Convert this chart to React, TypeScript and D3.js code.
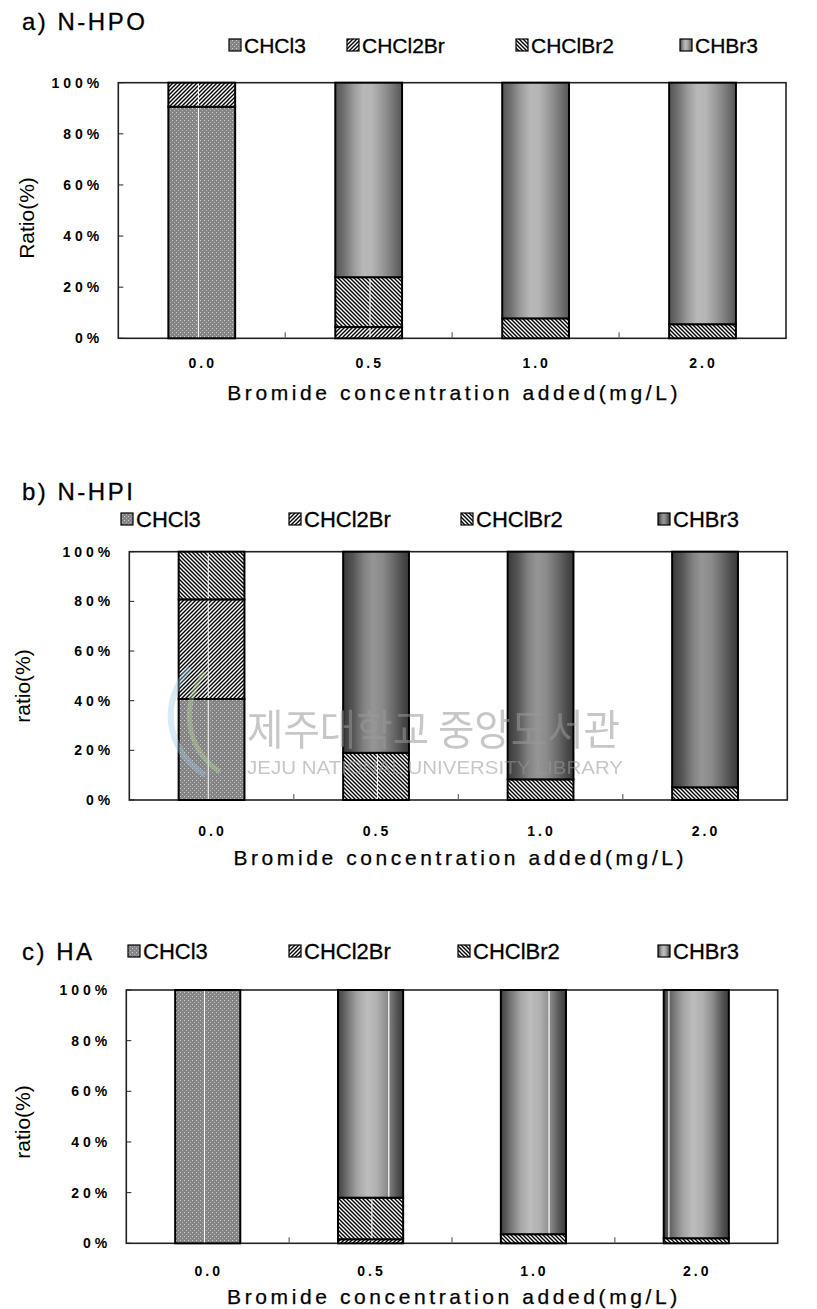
import React from "react";
import * as d3 from "d3";

const categories = ["0.0", "0.5", "1.0", "2.0"];
const seriesNames = ["CHCl3", "CHCl2Br", "CHClBr2", "CHBr3"];
const yTicks = [0, 20, 40, 60, 80, 100];

// a) N-HPO
const hpoCHCl3 = [90.6, 0, 0, 0];
const hpoCHCl2Br = [9.4, 4.4, 0, 0];
const hpoCHClBr2 = [0, 19.5, 7.8, 5.5];
const hpoCHBr3 = [0, 76.1, 92.2, 94.5];

// b) N-HPI
const hpiCHCl3 = [40.7, 0, 0, 0];
const hpiCHCl2Br = [40.1, 0, 0, 0];
const hpiCHClBr2 = [19.2, 19.0, 8.3, 5.1];
const hpiCHBr3 = [0, 81.0, 91.7, 94.9];

// c) HA
const haCHCl3 = [100, 0, 0, 0];
const haCHCl2Br = [0, 1.6, 0, 0];
const haCHClBr2 = [0, 16.4, 3.6, 2.0];
const haCHBr3 = [0, 82.0, 96.4, 98.0];

const FONT = "'Liberation Sans', Arial, sans-serif";

type Panel = {
  key: string;
  title: string;
  yTitle: string;
  series: number[][];
  frame: { l: number; r: number; t: number; b: number };
  titleY: number;
  legendY: number;
  legendX: number[];
  legendFont: number;
  tickY: number;
  axisTitleY: number;
  yTitleX: number;
  yTitleY: number;
  grad: [number, string][];
  chbr3Lines: (number | null)[];
};

const panels: Panel[] = [
  {
    key: "a",
    title: "a) N-HPO",
    yTitle: "Ratio(%)",
    series: [hpoCHCl3, hpoCHCl2Br, hpoCHClBr2, hpoCHBr3],
    frame: { l: 118.3, r: 786, t: 82.7, b: 338.3 },
    titleY: 30,
    legendY: 45,
    legendX: [229, 347, 516, 680],
    legendFont: 21,
    tickY: 368,
    axisTitleY: 400,
    yTitleX: 34,
    yTitleY: 218,
    grad: [
      [0, "#555"],
      [0.12, "#6e6e6e"],
      [0.28, "#9c9c9c"],
      [0.42, "#b8b8b8"],
      [0.55, "#b5b5b5"],
      [0.7, "#9a9a9a"],
      [0.85, "#7a7a7a"],
      [1, "#555"],
    ],
    chbr3Lines: [null, null, null, null],
  },
  {
    key: "b",
    title: "b) N-HPI",
    yTitle: "ratio(%)",
    series: [hpiCHCl3, hpiCHCl2Br, hpiCHClBr2, hpiCHBr3],
    frame: { l: 129.3, r: 787.3, t: 551.7, b: 800 },
    titleY: 500,
    legendY: 519,
    legendX: [121, 289, 461, 658],
    legendFont: 22,
    tickY: 836,
    axisTitleY: 865,
    yTitleX: 30,
    yTitleY: 686,
    grad: [
      [0, "#3a3a3a"],
      [0.15, "#555"],
      [0.32, "#838383"],
      [0.45, "#959595"],
      [0.6, "#8a8a8a"],
      [0.78, "#666"],
      [0.92, "#474747"],
      [1, "#3a3a3a"],
    ],
    chbr3Lines: [null, null, null, null],
  },
  {
    key: "c",
    title: "c) HA",
    yTitle: "ratio(%)",
    series: [haCHCl3, haCHCl2Br, haCHClBr2, haCHBr3],
    frame: { l: 126.3, r: 777.7, t: 990, b: 1243.3 },
    titleY: 960,
    legendY: 951,
    legendX: [128, 289, 458, 658],
    legendFont: 22,
    tickY: 1276,
    axisTitleY: 1304,
    yTitleX: 30,
    yTitleY: 1122,
    grad: [
      [0, "#3e3e3e"],
      [0.12, "#6a6a6a"],
      [0.3, "#a5a5a5"],
      [0.45, "#bdbdbd"],
      [0.6, "#b0b0b0"],
      [0.75, "#8c8c8c"],
      [0.9, "#555"],
      [1, "#3a3a3a"],
    ],
    chbr3Lines: [null, 0.78, 0.74, 0.08],
  },
];

function fillFor(p: string, i: number) {
  if (i === 0) return `url(#dots-${p})`;
  if (i === 1) return `url(#fwd-${p})`;
  if (i === 2) return `url(#back-${p})`;
  return `url(#grad-${p})`;
}

function PanelChart({ p }: { p: Panel }) {
  const { l, r, t, b } = p.frame;
  const x = d3.scaleBand<string>().domain(categories).range([l, r]).paddingInner(0.6).paddingOuter(0.3);
  const y = d3.scaleLinear().domain([0, 100]).range([b, t]);
  const rows = categories.map((c, ci) => {
    const o: any = { cat: c };
    seriesNames.forEach((s, si) => (o[s] = p.series[si][ci]));
    return o;
  });
  const stacked = d3.stack<any>().keys(seriesNames)(rows);
  const step = x.step();
  const bw = x.bandwidth();
  const boundaries = categories.slice(1).map((c) => (x(c) as number) - (step - bw) / 2);

  return (
    <g>
      <defs>
        <pattern id={`dots-${p.key}`} width={4} height={4} patternUnits="userSpaceOnUse">
          <rect width={4} height={4} fill="#858585" />
          <rect x={0} y={0} width={1} height={1} fill="#cfcfcf" />
          <rect x={2} y={2} width={1} height={1} fill="#b5b5b5" />
        </pattern>
        <pattern id={`fwd-${p.key}`} width={4} height={4} patternUnits="userSpaceOnUse">
          <rect width={4} height={4} fill="#fff" />
          <path d="M-1,1 L1,-1 M0,4 L4,0 M3,5 L5,3" stroke="#000" strokeWidth={1.4} />
        </pattern>
        <pattern id={`back-${p.key}`} width={4} height={4} patternUnits="userSpaceOnUse">
          <rect width={4} height={4} fill="#fff" />
          <path d="M-1,3 L1,5 M0,0 L4,4 M3,-1 L5,1" stroke="#000" strokeWidth={1.4} />
        </pattern>
        <linearGradient id={`grad-${p.key}`} x1="0" x2="1" y1="0" y2="0">
          {p.grad.map(([o, c], i) => (
            <stop key={i} offset={o} stopColor={c} />
          ))}
        </linearGradient>
      </defs>

      {/* title */}
      <text x={22} y={p.titleY} fontFamily={FONT} fontSize={24} letterSpacing={2.5} fill="#000" stroke="#000" strokeWidth={0.3}>
        {p.title}
      </text>

      {/* legend */}
      {seriesNames.map((s, i) => (
        <g key={s}>
          <rect
            x={p.legendX[i]}
            y={p.legendY - 6}
            width={12}
            height={12}
            fill={fillFor(p.key, i)}
            stroke="#000"
            strokeWidth={1.2}
          />
          <text
            x={p.legendX[i] + 15}
            y={p.legendY + 8}
            fontFamily={FONT}
            fontSize={p.legendFont}
            fill="#000"
            stroke="#000"
            strokeWidth={0.3}
          >
            {s}
          </text>
        </g>
      ))}

      {/* frame */}
      <rect x={l} y={t} width={r - l} height={b - t} fill="#fff" stroke="#222" strokeWidth={1.6} />

      {/* y ticks */}
      {yTicks.map((v) => (
        <g key={v}>
          <line x1={l} x2={l + 5} y1={y(v)} y2={y(v)} stroke="#222" strokeWidth={1} />
          <text
            x={l - 15}
            y={y(v) + 5}
            textAnchor="end"
            fontFamily={FONT}
            fontWeight="bold"
            fontSize={14}
            letterSpacing={4}
            fill="#000"
          >
            {v}%
          </text>
        </g>
      ))}

      {/* category ticks */}
      {boundaries.map((bx, i) => (
        <line key={i} x1={bx} x2={bx} y1={b} y2={b - 6} stroke="#666" strokeWidth={1.2} />
      ))}

      {/* bars */}
      {stacked.map((layer, si) =>
        layer.map((d, ci) => {
          const h = y(d[0]) - y(d[1]);
          if (h <= 0.01) return null;
          const bx = x(categories[ci]) as number;
          return (
            <g key={`${si}-${ci}`}>
              <rect
                x={bx}
                y={y(d[1])}
                width={bw}
                height={h}
                fill={fillFor(p.key, si)}
                stroke="#000"
                strokeWidth={2}
              />
              {si < 3 && (ci === 0 || ci === 1) && h > 4 && (
                <line
                  x1={bx + bw * (ci === 0 ? 0.45 : 0.52)}
                  x2={bx + bw * (ci === 0 ? 0.45 : 0.52)}
                  y1={y(d[1]) + 1}
                  y2={y(d[0]) - 1}
                  stroke="#fff"
                  strokeWidth={1}
                />
              )}
              {si === 3 && p.chbr3Lines[ci] !== null && (
                <line
                  x1={bx + bw * (p.chbr3Lines[ci] as number)}
                  x2={bx + bw * (p.chbr3Lines[ci] as number)}
                  y1={y(d[1]) + 1}
                  y2={y(d[0]) - 1}
                  stroke="#fff"
                  strokeWidth={1.2}
                />
              )}
            </g>
          );
        })
      )}

      {/* x tick labels */}
      {categories.map((c) => (
        <text
          key={c}
          x={(x(c) as number) + bw / 2 + 1}
          y={p.tickY}
          textAnchor="middle"
          fontFamily={FONT}
          fontWeight="bold"
          fontSize={14}
          letterSpacing={3}
          fill="#000"
        >
          {c}
        </text>
      ))}

      {/* x axis title */}
      <text
        x={(l + r) / 2 + 2}
        y={p.axisTitleY}
        textAnchor="middle"
        fontFamily={FONT}
        fontSize={21}
        letterSpacing={3.6}
        fill="#000"
        stroke="#000"
        strokeWidth={0.25}
      >
        Bromide concentration added(mg/L)
      </text>

      {/* y axis title */}
      <text
        transform={`translate(${p.yTitleX},${p.yTitleY}) rotate(-90)`}
        textAnchor="middle"
        fontFamily={FONT}
        fontSize={21}
        fill="#000"
      >
        {p.yTitle}
      </text>
    </g>
  );
}

export default function App() {
  return (
    <svg
      width={817}
      height={1309}
      viewBox="0 0 817 1309"
      style={{ position: "absolute", left: 0, top: 0, background: "#fff" }}
    >
      <rect width={817} height={1309} fill="#fff" />
      {panels.map((p) => (
        <PanelChart key={p.key} p={p} />
      ))}
      {/* library watermark (panel b) */}
      <g opacity={0.55} fill="#9a9a9a">
        <path d="M190,668 C160,700 165,750 205,775" stroke="#9cc8e6" strokeWidth={6} fill="none" opacity={0.7} />
        <path d="M205,672 C180,705 185,748 220,772" stroke="#b8d89a" strokeWidth={5} fill="none" opacity={0.7} />
        <text x={247} y={745} fontSize={42} textLength={373} lengthAdjust="spacingAndGlyphs" fontFamily="'Noto Sans CJK KR', sans-serif">
          제주대학교 중앙도서관
        </text>
        <text x={247} y={774} fontSize={18} textLength={376} lengthAdjust="spacingAndGlyphs" fontFamily={FONT}>
          JEJU NATIONAL UNIVERSITY LIBRARY
        </text>
      </g>
    </svg>
  );
}
